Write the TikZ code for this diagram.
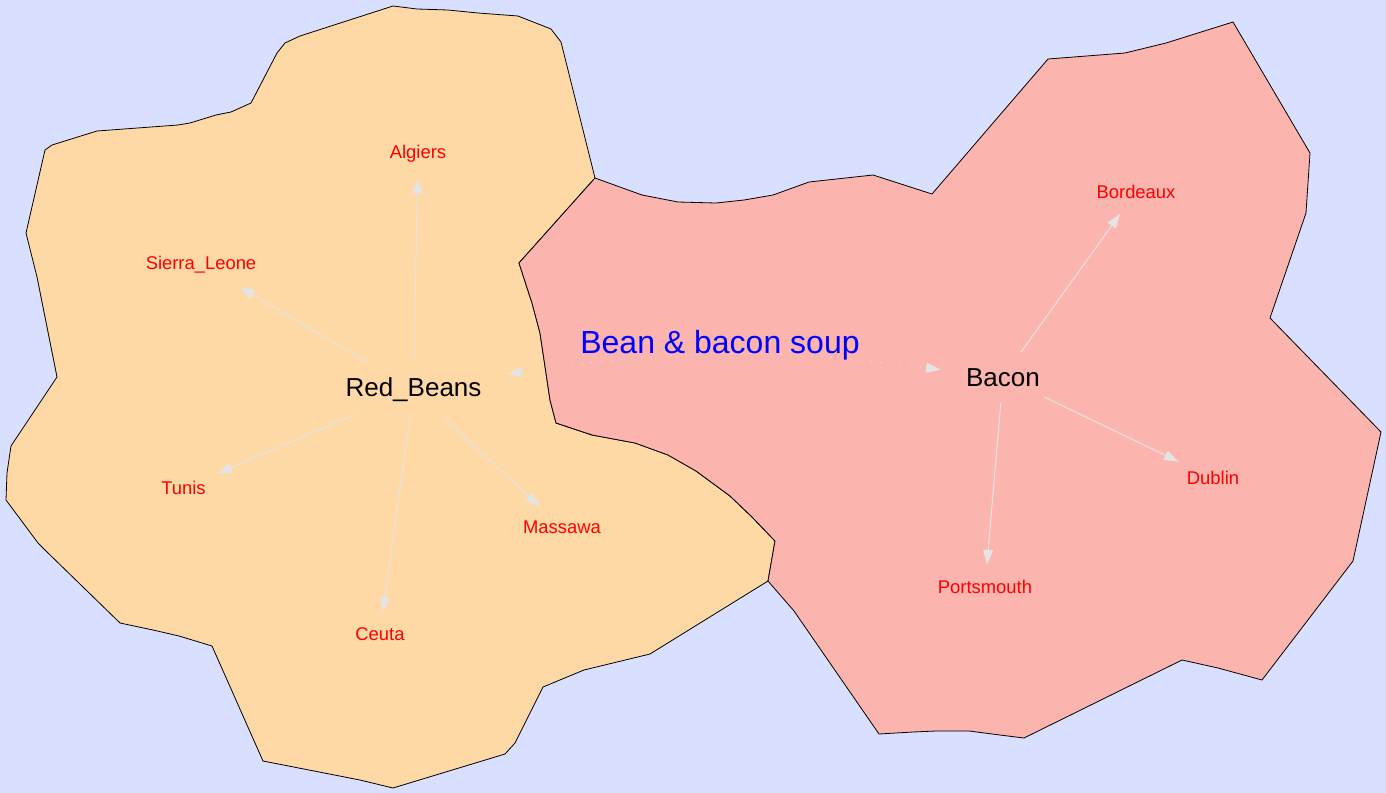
\documentclass[tikz,border=0pt]{standalone}
\usepackage{fontspec}
\setmainfont{Liberation Sans}
\usepackage{tikz}
\usetikzlibrary{arrows.meta,shapes.geometric}
\definecolor{MapSea}{HTML}{D9E0FF}
\definecolor{BeanOrange}{HTML}{FED9A6}
\definecolor{BaconPink}{HTML}{FBB4AE}
\definecolor{EdgeGrey}{HTML}{E4E4E4}

\begin{document}
\begin{tikzpicture}[x=0.75pt,y=-0.75pt,>={Triangle[length=11pt,width=7.5pt]},
    region/.style={draw=black, line width=0.6pt},
    place/.style={ellipse, inner sep=6.75pt, anchor=base, text=red, font=\fontsize{13.8}{16}\selectfont},
    hub/.style={ellipse, inner sep=6.75pt, anchor=base, text=black, font=\fontsize{19.5}{22}\selectfont},
    link/.style={->, draw=EdgeGrey, line width=0.75pt},
    soup/.style={<->, draw=EdgeGrey, line width=0.75pt, dash pattern=on 0.75pt off 6.75pt}]
        \fill[MapSea] (0,0) rectangle (1386,793);
        \useasboundingbox (0,0) rectangle (1386,793);
        % countries
        \filldraw[region, fill=BeanOrange] (393,6) -- (417,9) -- (448,10) -- (478,13) -- (518,16) -- (551,29) -- (561,42) -- (595,178)
            -- (519,263) -- (532,303) -- (540,333) -- (543,353) -- (550,400) -- (556,423) -- (592,435) -- (635,443) -- (668,455)
            -- (696,471) -- (730,496) -- (752,517) -- (775,541) -- (768,581)
            -- (650,654) -- (584,670) -- (543,687) -- (515,743) -- (505,754) -- (393,788) -- (360,780) -- (263,761) -- (212,646)
            -- (179,636) -- (153,630) -- (120,623) -- (46,551) -- (38,543) -- (6,500) -- (7,473) -- (11,446) -- (57,377)
            -- (37,277) -- (26,233) -- (45,150) -- (52,145) -- (97,131) -- (178,125) -- (190,123) -- (216,115) -- (231,112)
            -- (251,103) -- (277,53) -- (285,43) -- (300,36) -- cycle;
        \filldraw[region, fill=BaconPink] (595,178) -- (642,195) -- (678,202) -- (716,203) -- (744,200) -- (773,195) -- (809,182)
            -- (873,175) -- (932,194) -- (1048,59) -- (1125,53) -- (1166,43) -- (1233,22) -- (1310,153) -- (1306,213) -- (1270,318)
            -- (1381,432) -- (1353,561) -- (1262,680) -- (1218,668) -- (1182,660) -- (1024,738) -- (1000,735) -- (969,731)
            -- (936,731) -- (913,732) -- (879,734) -- (794,611) -- (768,581)
            -- (775,541) -- (752,517) -- (730,496) -- (696,471) -- (668,455) -- (635,443) -- (592,435) -- (556,423) -- (550,400)
            -- (543,353) -- (540,333) -- (532,303) -- (519,263) -- cycle;
        % cities
        \node[hub] (beans) at (413.5,396) {Red\_Beans};
        \node[hub] (bacon) at (1003,386) {Bacon};
        \node[place] (algiers) at (418,158.3) {Algiers};
        \node[place] (sierra) at (201,269.3) {Sierra\_Leone};
        \node[place] (tunis) at (183.5,494.7) {Tunis};
        \node[place] (massawa) at (562,533.7) {Massawa};
        \node[place] (ceuta) at (380,640.3) {Ceuta};
        \node[place] (bordeaux) at (1136,198.3) {Bordeaux};
        \node[place] (dublin) at (1213,484.7) {Dublin};
        \node[place] (portsmouth) at (985,593.7) {Portsmouth};
        \node[anchor=base, text=blue, font=\fontsize{24}{28}\selectfont] (dish) at (720,353) {Bean \& bacon soup};
        % edges
        \draw[link] (beans) -- (algiers);
        \draw[link] (beans) -- (sierra);
        \draw[link] (beans) -- (tunis);
        \draw[link] (beans) -- (ceuta);
        \draw[link] (beans) -- (massawa);
        \draw[link] (bacon) -- (bordeaux);
        \draw[link] (bacon) -- (dublin);
        \draw[link] (bacon) -- (portsmouth);
        \draw[soup] (beans) to[bend left=8] (bacon);
\end{tikzpicture}
\end{document}
